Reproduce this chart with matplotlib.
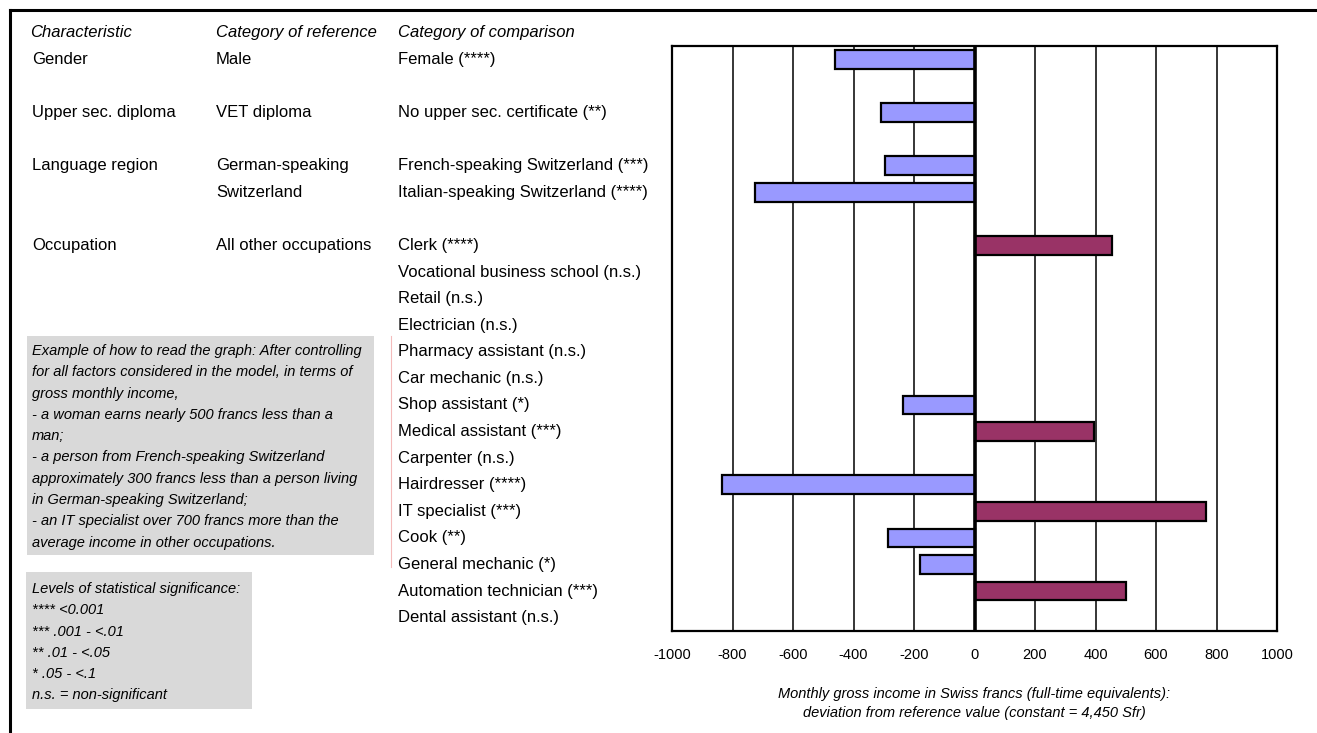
import numpy as np
import matplotlib.pyplot as plt
from matplotlib.transforms import blended_transform_factory
from matplotlib.patches import Rectangle
from matplotlib.lines import Line2D

plt.rcParams['font.family'] = ['Liberation Sans Narrow', 'Liberation Sans', 'DejaVu Sans']

# rows of the chart (None = empty row)
comparison = ["Female (****)", None, "No upper sec. certificate (**)", None,
              "French-speaking Switzerland (***)", "Italian-speaking Switzerland (****)", None,
              "Clerk (****)", "Vocational business school (n.s.)", "Retail (n.s.)",
              "Electrician (n.s.)", "Pharmacy assistant (n.s.)", "Car mechanic (n.s.)",
              "Shop assistant (*)", "Medical assistant (***)", "Carpenter (n.s.)",
              "Hairdresser (****)", "IT specialist (***)", "Cook (**)",
              "General mechanic (*)", "Automation technician (***)", "Dental assistant (n.s.)"]
values = [-460, np.nan, -310, np.nan, -295, -725, np.nan,
          455, np.nan, np.nan, np.nan, np.nan, np.nan,
          -235, 395, np.nan, -835, 765, -285, -180, 500, np.nan]

characteristic = {0: "Gender", 2: "Upper sec. diploma", 4: "Language region", 7: "Occupation"}
reference = {0: "Male", 2: "VET diploma", 4: "German-speaking", 5: "Switzerland",
             7: "All other occupations"}

xticks = [-1000, -800, -600, -400, -200, 0, 200, 400, 600, 800, 1000]

example_text = ["Example of how to read the graph: After controlling",
                "for all factors considered in the model, in terms of",
                "gross monthly income,",
                "- a woman earns nearly 500 francs less than a",
                "man;",
                "- a person from French-speaking Switzerland",
                "approximately 300 francs less than a person living",
                "in German-speaking Switzerland;",
                "- an IT specialist over 700 francs more than the",
                "average income in other occupations."]
levels_text = ["Levels of statistical significance:",
               "**** <0.001",
               "*** .001 - <.01",
               "** .01 - <.05",
               "* .05 - <.1",
               "n.s. = non-significant"]

W, H = 1317, 733
fig = plt.figure(figsize=(W / 100, H / 100), dpi=100)


def fx(px):
    return px / W


def fy(py):
    return 1 - py / H


# bar chart
ax = fig.add_axes([fx(672), fy(631), fx(1277) - fx(672), fy(46) - fy(631)])
n = len(values)
y = np.arange(n)
vals = np.array(values, dtype=float)
colors = ['#9999FF' if v < 0 else '#993366' for v in np.nan_to_num(vals)]
ax.barh(y, vals, height=0.7, color=colors, edgecolor='black', linewidth=1.6, zorder=3)
ax.set_ylim(n - 0.5, -0.5)
ax.set_xlim(-1000, 1000)
ax.set_xticks(xticks)
ax.set_xticklabels([str(t) for t in xticks], fontsize=10.5)
ax.tick_params(axis='x', length=0, pad=12)
ax.set_yticks([])
for t in xticks[1:-1]:
    if t == 0:
        continue
    ax.axvline(t, color='black', lw=1.1, zorder=1)
ax.axvline(0, color='black', lw=2.6, zorder=4)
for s in ax.spines.values():
    s.set_linewidth(1.6)
ax.set_xlabel("Monthly gross income in Swiss francs (full-time equivalents):\n"
              "deviation from reference value (constant = 4,450 Sfr)",
              fontsize=10.5, style='italic', labelpad=18, linespacing=1.5)

# label columns aligned with the bar rows
tr = blended_transform_factory(fig.transFigure, ax.transData)
fs = 12
fig.text(fx(30), -1, "Characteristic", transform=tr, style='italic', fontsize=fs, va='center')
fig.text(fx(216), -1, "Category of reference", transform=tr, style='italic', fontsize=fs, va='center')
fig.text(fx(398), -1, "Category of comparison", transform=tr, style='italic', fontsize=fs, va='center')
for i, lab in characteristic.items():
    fig.text(fx(32), i, lab, transform=tr, fontsize=fs, va='center')
for i, lab in reference.items():
    fig.text(fx(216), i, lab, transform=tr, fontsize=fs, va='center')
for i, lab in enumerate(comparison):
    if lab:
        fig.text(fx(398), i, lab, transform=tr, fontsize=fs, va='center')

# grey explanation boxes
fig.patches.append(Rectangle((fx(27), fy(555)), fx(374) - fx(27), fy(336) - fy(555),
                             transform=fig.transFigure, facecolor='#D9D9D9', edgecolor='none'))
for k, line in enumerate(example_text):
    fig.text(fx(32), fy(351 + k * 21.3), line, style='italic', fontsize=10.5, va='center')

fig.patches.append(Rectangle((fx(26), fy(709)), fx(252) - fx(26), fy(572) - fy(709),
                             transform=fig.transFigure, facecolor='#D9D9D9', edgecolor='none'))
for k, line in enumerate(levels_text):
    fig.text(fx(32), fy(589 + k * 21.3), line, style='italic', fontsize=10.5, va='center')

# frame lines and the faint pink rule
fig.add_artist(Line2D([fx(10), fx(1317)], [fy(10), fy(10)], color='black', lw=2.2))
fig.add_artist(Line2D([fx(10), fx(10)], [fy(10), fy(733)], color='black', lw=2.2))
fig.add_artist(Line2D([fx(391), fx(391)], [fy(336), fy(567)], color='#F4BCBC', lw=0.8))

fig.savefig("out.png", dpi=100)
